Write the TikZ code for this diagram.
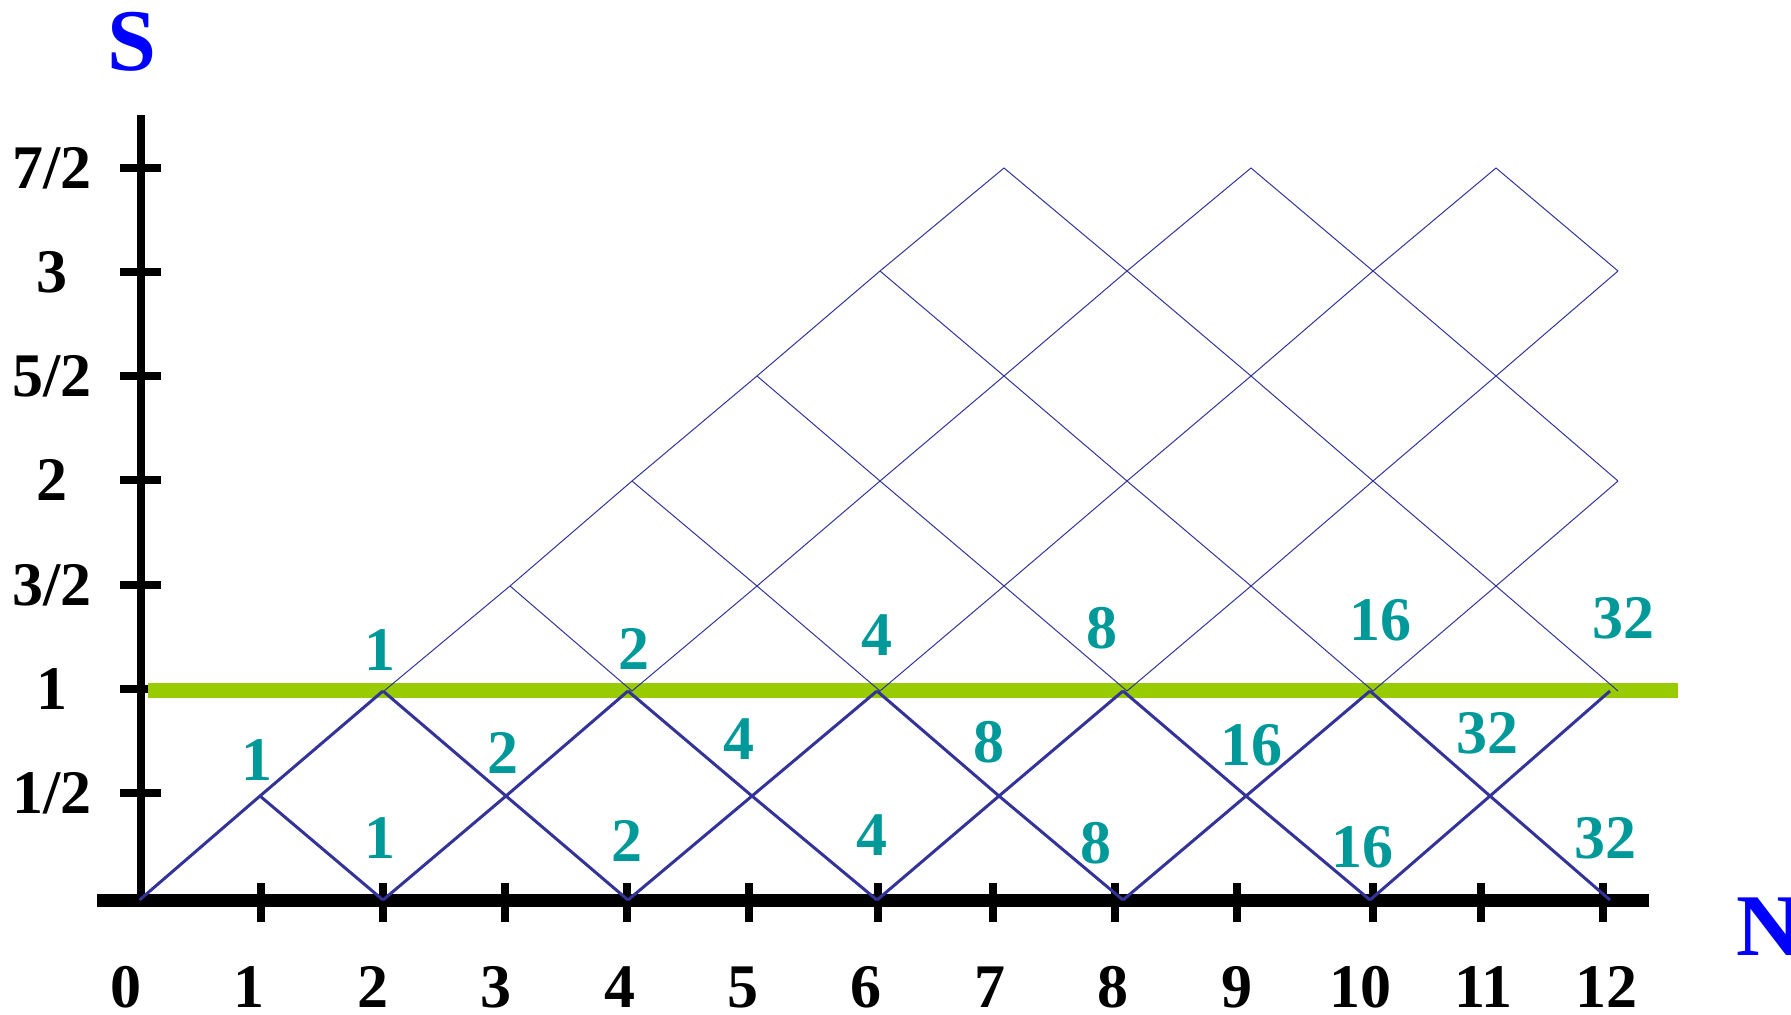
\documentclass[tikz,border=0pt]{standalone}
\usepackage{fontspec}
\setmainfont{Liberation Serif}
\definecolor{lat}{HTML}{333399}
\definecolor{tealnum}{HTML}{009999}
\definecolor{grn}{HTML}{99CC00}
\definecolor{axblue}{HTML}{0000FF}
\begin{document}
\begin{tikzpicture}[x=0.5pt,y=-0.5pt,
  thicklat/.style={draw=lat,line width=1.5pt},
  thinlat/.style={draw=lat,line width=0.5pt},
  num/.style={font=\fontsize{31}{31}\selectfont\bfseries,text=tealnum,inner sep=0pt},
  axlab/.style={font=\fontsize{31}{31}\selectfont\bfseries,inner sep=0pt},
  biglab/.style={font=\fontsize{44}{44}\selectfont\bfseries,text=axblue,inner sep=0pt},
  xaxisline/.style={line width=6.5pt},
  yaxisline/.style={line width=4pt},
  tickline/.style={line width=4pt},
  greenline/.style={draw=grn,line width=7.5pt}]
\useasboundingbox (0,0) rectangle (1791,1015);
% axes
\coordinate (xa0) at (97,900);
\coordinate (xa1) at (1649,900);
\coordinate (ya0) at (141,900);
\coordinate (ya1) at (141,115);
\draw[xaxisline] (xa0) -- (xa1);
\draw[yaxisline] (ya0) -- (ya1);
% x ticks
\foreach \t in {261,383,505,627,749,878,993,1115,1237,1373,1481,1603}{
  \coordinate (xt\t a) at (\t,883);
  \coordinate (xt\t b) at (\t,922);
  \draw[tickline] (xt\t a) -- (xt\t b);
}
% y ticks
\foreach \t in {168,272,376,480,585,689,793}{
  \coordinate (yt\t a) at (120,\t);
  \coordinate (yt\t b) at (161,\t);
  \draw[tickline] (yt\t a) -- (yt\t b);
}
% green line S=1
\coordinate (g0) at (148,690);
\coordinate (g1) at (1678,690);
\draw[greenline] (g0) -- (g1);
% lower lattice points (S <= 1)
\foreach \i/\xx in {0/139.5,1/260,2/383,3/506,4/628,5/752,6/877,7/999,8/1123,9/1246,10/1370,11/1490,12/1610}{
  \foreach \j/\yy in {0/900,1/796,2/691}{
    \coordinate (q\i-\j) at (\xx,\yy);
  }
}
% upper lattice points (S >= 1)
\foreach \i/\xx in {2/384,3/510,4/632,5/757,6/880,7/1004,8/1127,9/1251,10/1373,11/1496,12/1618}{
  \foreach \j/\yy in {2/691,3/586,4/481,5/376,6/271,7/168}{
    \coordinate (p\i-\j) at (\xx,\yy);
  }
}
% thick lattice (S <= 1)
\draw[thicklat] (q0-0) -- (q1-1) -- (q2-2);
\draw[thicklat] (q2-0) -- (q3-1) -- (q4-2);
\draw[thicklat] (q4-0) -- (q5-1) -- (q6-2);
\draw[thicklat] (q6-0) -- (q7-1) -- (q8-2);
\draw[thicklat] (q8-0) -- (q9-1) -- (q10-2);
\draw[thicklat] (q10-0) -- (q11-1) -- (q12-2);
\draw[thicklat] (q1-1) -- (q2-0);
\draw[thicklat] (q2-2) -- (q3-1) -- (q4-0);
\draw[thicklat] (q4-2) -- (q5-1) -- (q6-0);
\draw[thicklat] (q6-2) -- (q7-1) -- (q8-0);
\draw[thicklat] (q8-2) -- (q9-1) -- (q10-0);
\draw[thicklat] (q10-2) -- (q11-1) -- (q12-0);
% thin lattice (S >= 1)
\draw[thinlat] (p2-2) -- (p3-3) -- (p4-4) -- (p5-5) -- (p6-6) -- (p7-7);
\draw[thinlat] (p4-2) -- (p5-3) -- (p6-4) -- (p7-5) -- (p8-6) -- (p9-7);
\draw[thinlat] (p6-2) -- (p7-3) -- (p8-4) -- (p9-5) -- (p10-6) -- (p11-7);
\draw[thinlat] (p8-2) -- (p9-3) -- (p10-4) -- (p11-5) -- (p12-6);
\draw[thinlat] (p10-2) -- (p11-3) -- (p12-4);
\draw[thinlat] (p3-3) -- (p4-2);
\draw[thinlat] (p4-4) -- (p5-3) -- (p6-2);
\draw[thinlat] (p5-5) -- (p6-4) -- (p7-3) -- (p8-2);
\draw[thinlat] (p6-6) -- (p7-5) -- (p8-4) -- (p9-3) -- (p10-2);
\draw[thinlat] (p7-7) -- (p8-6) -- (p9-5) -- (p10-4) -- (p11-3) -- (p12-2);
\draw[thinlat] (p9-7) -- (p10-6) -- (p11-5) -- (p12-4);
\draw[thinlat] (p11-7) -- (p12-6);
% multiplicity labels
\node[num] (t1) at (380,650) {1};
\node[num] (t2) at (634,649) {2};
\node[num] (t3) at (877,635) {4};
\node[num] (t4) at (1102,628) {8};
\node[num] (t5) at (1380,620) {16};
\node[num] (t6) at (1623,618) {32};
\node[num] (m1) at (257,760) {1};
\node[num] (m2) at (503,753) {2};
\node[num] (m3) at (739,739) {4};
\node[num] (m4) at (989,742) {8};
\node[num] (m5) at (1251,745) {16};
\node[num] (m6) at (1487,733) {32};
\node[num] (b1) at (380,838) {1};
\node[num] (b2) at (627,841) {2};
\node[num] (b3) at (872,835) {4};
\node[num] (b4) at (1096,843) {8};
\node[num] (b5) at (1362,847) {16};
\node[num] (b6) at (1605,838) {32};
% y tick labels
\node[axlab] (s7) at (52,168) {7/2};
\node[axlab] (s6) at (52,272) {3};
\node[axlab] (s5) at (52,376) {5/2};
\node[axlab] (s4) at (52,480) {2};
\node[axlab] (s3) at (52,585) {3/2};
\node[axlab] (s2) at (52,689) {1};
\node[axlab] (s1) at (52,793) {1/2};
% x tick labels
\foreach \k in {0,...,12}{
  \node[axlab] (n\k) at ({126+123.4*\k},987) {\k};
}
% axis names
\node[biglab] (S) at (132,42) {S};
\node[biglab,anchor=base west] (N) at (1736,955) {N};
\end{tikzpicture}
\end{document}
